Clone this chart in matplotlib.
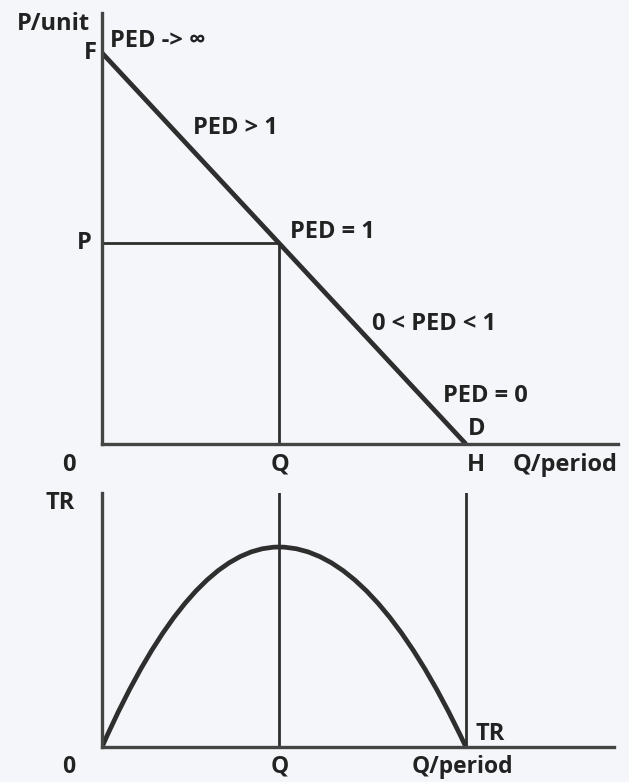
import matplotlib
matplotlib.use("Agg")
import matplotlib.pyplot as plt
from matplotlib.path import Path
from matplotlib.patches import PathPatch

# demand curve end points (Q, P)
demand_q = [0, 10]
demand_p = [10, 0]
# unit elastic point
q_mid = 4.86
p_mid = 5.14

# total revenue: start, peak, end
tr_q = [0, 4.86, 10]
tr_v = [0, 25.0, 0]

H = 10

bg = "#f4f6fa"
ink = "#2e2e2e"
font = ["Open Sans", "DejaVu Sans"]

fig = plt.figure(figsize=(6.29, 7.82), dpi=100, facecolor=bg)
W, Hpx = 629, 782


def px_axes(x0, y0, x1, y1):
    # axes box from pixel corners (left, top, right, bottom)
    return fig.add_axes([x0 / W, 1 - y1 / Hpx, (x1 - x0) / W, (y1 - y0) / Hpx])


def label(x, y, s, ha="left", size=17):
    fig.text(x / W, 1 - y / Hpx, s, ha=ha, va="center", fontsize=size,
             fontweight="bold", color="#222222", family=font)


# top panel: demand
ax = px_axes(102, 13, 618, 444)
ax.set_facecolor(bg)
ax.set_xlim(0, 14.18)
ax.set_ylim(0, 11.02)
ax.plot(demand_q, demand_p, color=ink, lw=3.4, solid_capstyle="butt")
ax.plot([0, q_mid, q_mid], [p_mid, p_mid, 0], color=ink, lw=2.0)

# bottom panel: total revenue, two parabolic halves meeting at the peak
ax2 = px_axes(102, 493, 614, 747)
ax2.set_facecolor(bg)
ax2.set_xlim(0, 14.07)
ax2.set_ylim(0, 31.75)
verts = [(tr_q[0], tr_v[0]), ((tr_q[0] + tr_q[1]) / 2, tr_v[1]), (tr_q[1], tr_v[1]),
         ((tr_q[1] + tr_q[2]) / 2, tr_v[1]), (tr_q[2], tr_v[2])]
codes = [Path.MOVETO, Path.CURVE3, Path.CURVE3, Path.CURVE3, Path.CURVE3]
ax2.add_patch(PathPatch(Path(verts, codes), facecolor="none", edgecolor=ink, lw=3.4))
ax2.axvline(q_mid, color=ink, lw=2.0)
ax2.axvline(H, color=ink, lw=2.0)

for a in (ax, ax2):
    for s in ("top", "right"):
        a.spines[s].set_visible(False)
    for s in ("left", "bottom"):
        a.spines[s].set_linewidth(2.4)
        a.spines[s].set_color("#444444")
    a.set_xticks([])
    a.set_yticks([])

# top labels
label(90, 24, "P/unit", ha="right")
label(97, 53, "F", ha="right")
label(110, 41, "PED -> \u221e")
label(193, 128, "PED > 1")
label(92, 243, "P", ha="right")
label(290, 232, "PED = 1")
label(372, 324, "0 < PED < 1")
label(443, 396, "PED = 0")
label(468, 429, "D")
label(69, 465, "0", ha="center")
label(280, 465, "Q", ha="center")
label(476, 465, "H", ha="center")
label(618, 465, "Q/period", ha="right")

# bottom labels
label(75, 503, "TR", ha="right")
label(476, 734, "TR")
label(69, 767, "0", ha="center", size=16.5)
label(280, 767, "Q", ha="center", size=16.5)
label(513, 767, "Q/period", ha="right", size=16.5)

fig.savefig("out.png", dpi=100, facecolor=bg)
